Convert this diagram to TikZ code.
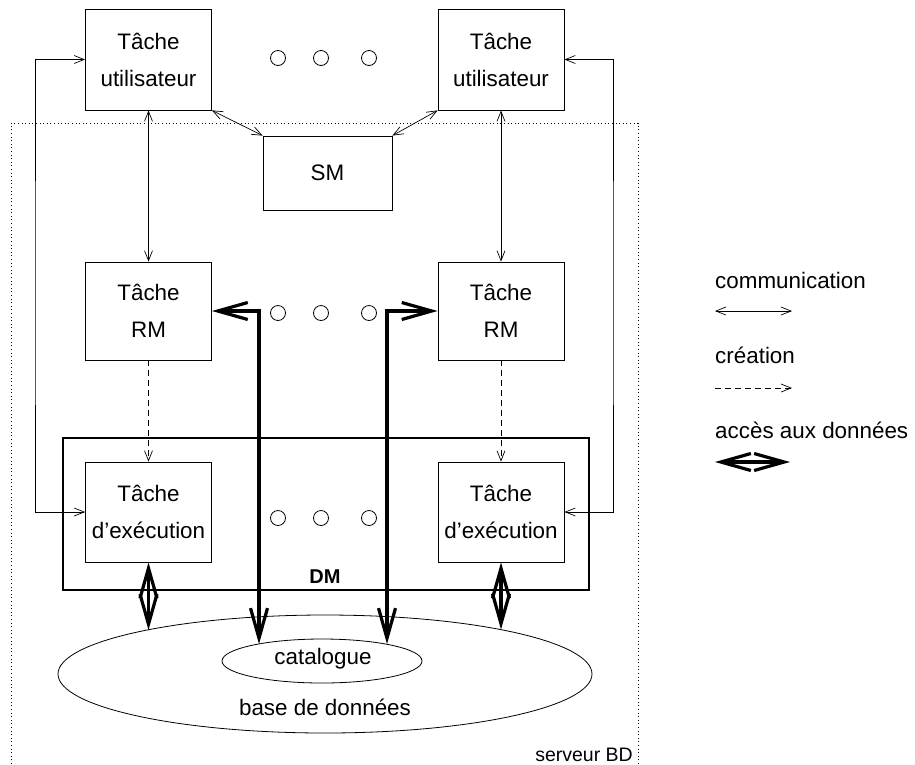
\documentclass[tikz,border=0pt]{standalone}
\usepackage{fontspec}
\setmainfont{Liberation Sans}
\usetikzlibrary{arrows.meta,shapes.geometric}
\begin{document}
\begin{tikzpicture}[x=1pt,y=-1pt,
  box/.style={draw,line width=0.8pt,minimum width=126pt,minimum height=100pt,align=center,inner sep=0pt,font=\fontsize{22.4}{37}\selectfont},
  comm/.style={line width=0.7pt,{Straight Barb[length=10pt,width=8pt]}-{Straight Barb[length=10pt,width=8pt]}},
  crea/.style={line width=0.7pt,dash pattern=on 6pt off 4pt,-{Straight Barb[length=10pt,width=8pt]}},
  data/.style={line width=3.2pt,{Straight Barb[length=30pt,width=17pt]}-{Straight Barb[length=30pt,width=17pt]}},
  dot/.style={draw,circle,line width=0.8pt,minimum size=15pt,inner sep=0pt},
  lbl/.style={font=\fontsize{22.4}{27}\selectfont,inner sep=0pt}
]
\useasboundingbox (0,0) rectangle (915,764);
% server frame
\draw[line width=0.8pt,dash pattern=on 1pt off 2.6pt] (11,764) -- (11,123) -- (638,123) -- (638,764);
\node[font=\fontsize{19.5}{22}\selectfont,inner sep=0pt,anchor=east] (srv) at (633,755) {serveur BD};

% boxes
\node[box,minimum height=101pt] (userL) at (148.5,59.5) {Tâche\\utilisateur};
\node[box,minimum height=101pt] (userR) at (501,59.5) {Tâche\\utilisateur};
\node[box,minimum width=129pt,minimum height=74pt] (sm) at (327.5,173) {SM};
\node[box,minimum height=98pt] (rmL) at (148.5,311) {Tâche\\RM};
\node[box,minimum height=98pt] (rmR) at (501,311) {Tâche\\RM};
\node[draw,line width=2.6pt,minimum width=526pt,minimum height=152pt,inner sep=0pt] (dm) at (326,514) {};
\node[font=\fontsize{20}{24}\selectfont\bfseries,inner sep=0pt] (dmlbl) at (325,577) {DM};
\node[box] (exL) at (148.5,512) {Tâche\\d’exécution};
\node[box] (exR) at (501,512) {Tâche\\d’exécution};

% database
\node[draw,ellipse,line width=0.8pt,minimum width=534pt,minimum height=118pt,inner sep=0pt] (bd) at (325,674) {};
\node[draw,ellipse,line width=0.8pt,minimum width=200pt,minimum height=44pt,inner sep=0pt] (cat) at (322,661) {};
\node[lbl] (cattxt) at (323,659) {catalogue};
\node[lbl] (bdtxt) at (325,707) {base de données};

% dots
\foreach \yy/\rr in {58/a,313/b,518/c}{
  \node[dot] (d1\rr) at (278,\yy) {};
  \node[dot] (d2\rr) at (321,\yy) {};
  \node[dot] (d3\rr) at (369,\yy) {};
}

% coordinates
\coordinate (fbL) at (35,300);
\coordinate (fbR) at (613,300);
\coordinate (c1) at (259,644);
\coordinate (c2) at (387,644);
\coordinate (b1) at (148.5,630);
\coordinate (b2) at (501,629.5);

% connectors
\draw[comm] (userL.south) -- (rmL.north);
\draw[comm] (userR.south) -- (rmR.north);
\draw[comm] (userL.south east) -- (sm.north west);
\draw[comm] (userR.south west) -- (sm.north east);
\draw[comm] (userL.west) -| (fbL) |- (exL.west);
\draw[comm] (userR.east) -| (fbR) |- (exR.east);
\draw[crea] (rmL.south) -- (exL.north);
\draw[crea] (rmR.south) -- (exR.north);
\draw[data] (rmL.east) -| (c1);
\draw[data] (rmR.west) -| (c2);
\draw[data] (exL.south) -- (b1);
\draw[data] (exR.south) -- (b2);

% legend
\node[lbl,anchor=west] (lg1) at (715,280) {communication};
\coordinate (l1a) at (715,311); \coordinate (l1b) at (792,311);
\draw[comm] (l1a) -- (l1b);
\node[lbl,anchor=west] (lg2) at (715,355) {création};
\coordinate (l2a) at (715,388); \coordinate (l2b) at (792,388);
\draw[crea] (l2a) -- (l2b);
\node[lbl,anchor=west] (lg3) at (715,430) {accès aux données};
\coordinate (l3a) at (715,462); \coordinate (l3b) at (790,462);
\draw[data] (l3a) -- (l3b);
\end{tikzpicture}
\end{document}
